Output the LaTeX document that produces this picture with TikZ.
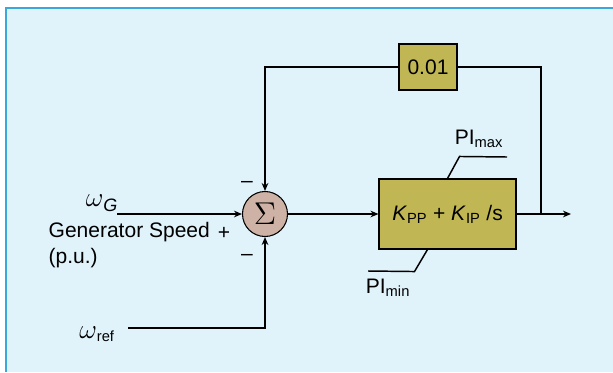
\documentclass[tikz,border=0pt]{standalone}
\usepackage{fix-cm}
\usepackage{amsmath}
\usepackage{fontspec}
\setmainfont{Liberation Sans}
\usetikzlibrary{arrows.meta,positioning,calc}
\definecolor{panel}{RGB}{224,242,250}
\definecolor{panelline}{RGB}{58,168,220}
\definecolor{gainfill}{RGB}{192,182,83}
\definecolor{sumfill}{RGB}{205,178,165}

\begin{document}
\begin{tikzpicture}[>={Stealth[length=6pt,width=5pt]},x=0.75pt,y=-0.75pt,
  every node/.style={font=\fontsize{15.75}{18}\selectfont},
  gain/.style={draw,thick,fill=gainfill,inner sep=0pt},
  wire/.style={line width=1.1pt}]
  \useasboundingbox (0,0) rectangle (613,372);
  % panel
  \fill[panel] (6,8) rectangle (613,372);
  \draw[panelline,line width=2pt] (6,372) -- (6,8) -- (613,8);

  % blocks
  \node[circle,draw,thick,fill=sumfill,inner sep=0pt,minimum size=45*0.75pt] (sum) at (265,214)
    {\scalebox{1.5}{$\Sigma$}};
  \node[gain,minimum width=137*0.75pt,minimum height=70*0.75pt] (pi) at (447.5,214)
    {\textit{K}$_{\text{PP}}$ + \textit{K}$_{\text{IP}}$ /s};
  \node[gain,minimum width=58*0.75pt,minimum height=46*0.75pt] (lowgain) at (428,67) {0.01};

  % inputs
  \node (wg) at (102,203) {$\mbox{\scalebox{1.3}{$\omega$}}_{\mbox{\fontsize{13.5}{15}\selectfont\itshape G}}$};
  \node[anchor=base west] (gs) at (44,237) {Generator Speed};
  \node[anchor=base west] (pu) at (44,263) {(p.u.)};
  \node (wr) at (97,334) {$\mbox{\scalebox{1.3}{$\omega$}}_{\text{ref}}$};
  \node (plus) at (224,233) {+};
  \node (mtop) at (247,184) {–};
  \node (mbot) at (247,257) {–};
  \coordinate (wgin) at (117,214);
  \coordinate (wrin) at (128,328);
  \coordinate (tap) at (541,214);
  \coordinate (out) at (571,214);

  % limits
  \node (pmax) at (479,139) {PI$_{\text{max}}$};
  \node (pmin) at (388,288) {PI$_{\text{min}}$};
  \coordinate (maxend) at (507,157);
  \coordinate (minend) at (368,271);

  % connectors
  \draw[wire,->] (wgin) -- (sum);
  \draw[wire,->] (wrin) -| (sum);
  \draw[wire,->] (sum) -- (pi);
  \draw[wire,->] (pi) -- (out);
  \draw[wire] (tap) |- (lowgain);
  \draw[wire,->] (lowgain) -| (sum);
  \draw[wire] (pi.north) -- ++(12,-22) -- (maxend);
  \draw[wire] ([xshift=-15pt]pi.south) -- ++(-13,22) -- (minend);
\end{tikzpicture}
\end{document}
